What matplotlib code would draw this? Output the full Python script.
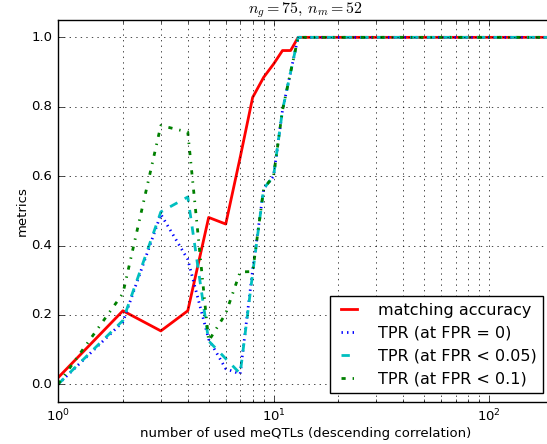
import matplotlib
matplotlib.use('Agg')
import matplotlib.pyplot as plt

# number of used meQTLs (x) and the four metrics
n_used = [1, 2, 3, 4, 5, 6, 7, 8, 9, 10, 11, 12, 13, 200]
matching_acc = [0.019, 0.212, 0.154, 0.212, 0.481, 0.462, 0.654, 0.827, 0.885, 0.923, 0.962, 0.962, 1.0, 1.0]
tpr_fpr0 = [0.0, 0.18, 0.49, 0.36, 0.13, 0.045, 0.03, 0.33, 0.564, 0.60, 0.79, 0.90, 1.0, 1.0]
tpr_fpr005 = [0.0, 0.184, 0.497, 0.54, 0.125, 0.074, 0.031, 0.32, 0.564, 0.60, 0.79, 0.90, 1.0, 1.0]
tpr_fpr01 = [0.0, 0.262, 0.746, 0.727, 0.125, 0.204, 0.324, 0.325, 0.564, 0.60, 0.79, 0.90, 1.0, 1.0]

labels = ['matching accuracy', 'TPR (at FPR = 0)', 'TPR (at FPR < 0.05)', 'TPR (at FPR < 0.1)']

plt.style.use('classic')
plt.rcParams['font.size'] = 9.5
plt.rcParams['figure.facecolor'] = 'white'
plt.rcParams['savefig.facecolor'] = 'white'

fig = plt.figure(figsize=(5.47, 4.44), dpi=100)
ax = fig.add_axes([58 / 547, (444 - 401.7) / 444, (554 - 58) / 547, (401.7 - 20) / 444])

ax.plot(n_used, matching_acc, 'r-', lw=2, label=labels[0])
ax.plot(n_used, tpr_fpr0, 'b:', lw=2, label=labels[1])
ax.plot(n_used, tpr_fpr005, 'c--', lw=2, label=labels[2])
ax.plot(n_used, tpr_fpr01, 'g-.', lw=2, label=labels[3])

ax.set_xscale('log')
ax.set_xlim(1, 200)
ax.set_ylim(-0.05, 1.05)
ax.set_yticks([0.0, 0.2, 0.4, 0.6, 0.8, 1.0])
ax.tick_params(labelsize=9.5)
ax.grid(True, which='major')
ax.grid(True, which='minor', axis='x')

ax.set_title(r'$n_g = 75,\, n_m = 52$', fontsize=11.5)
ax.set_xlabel('number of used meQTLs (descending correlation)', fontsize=9.5, labelpad=2)
ax.set_ylabel('metrics', fontsize=9.5, labelpad=2)

ax.legend(loc='lower right', bbox_to_anchor=(543 / 547, (444 - 393) / 444),
          bbox_transform=fig.transFigure, borderaxespad=0, fontsize=11.5,
          handlelength=1.6, handletextpad=1.0)

fig.savefig('out.png', dpi=100)
